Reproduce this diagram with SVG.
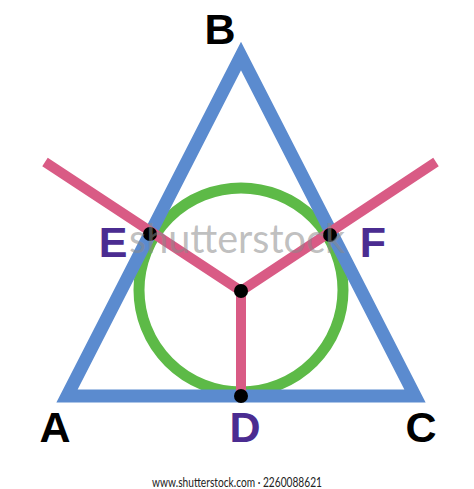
<svg xmlns="http://www.w3.org/2000/svg" width="474" height="489" viewBox="0 0 474 489">
<style>
.lbl{font-family:"Liberation Sans",Arial,sans-serif;font-weight:bold;font-size:43px;text-anchor:middle}
.blk{fill:#000}
.pur{fill:#4b2c91}
.dot{fill:#000}
</style>
<rect width="474" height="489" fill="#fff"/>
<g id="incircle">
<circle cx="241" cy="290" r="102" fill="none" stroke="#5dba47" stroke-width="11"/>
</g>
<g id="triangle">
<polygon points="67,396 415,396 241,56" fill="none" stroke="#5b8bcf" stroke-width="13" stroke-linejoin="miter" stroke-miterlimit="10"/>
</g>
<g id="connectors" fill="none" stroke="#d95b85" stroke-width="10">
<polyline points="45,162 241,291 436,162"/>
<line x1="241" y1="291" x2="241" y2="396"/>
</g>
<g id="node-E"><circle class="dot" cx="150" cy="234" r="7"/><text class="lbl pur" x="113" y="257">E</text></g>
<g id="node-F"><circle class="dot" cx="330" cy="235" r="7"/><text class="lbl pur" x="373" y="257">F</text></g>
<g id="node-I"><circle class="dot" cx="241" cy="291" r="7"/></g>
<g id="node-D"><circle class="dot" cx="241" cy="396" r="7"/><text class="lbl pur" x="245" y="442">D</text></g>
<g id="node-A"><text class="lbl blk" x="55" y="442">A</text></g>
<g id="node-B"><text class="lbl blk" x="220" y="44">B</text></g>
<g id="node-C"><text class="lbl blk" x="421" y="442">C</text></g>
<text x="129" y="253" font-family="Lato,'Liberation Sans',sans-serif" font-size="40" fill="#8a8a8a" fill-opacity="0.55" textLength="216" lengthAdjust="spacingAndGlyphs">shutterstock</text>
<text x="152" y="487" font-family="Lato,'Liberation Sans',sans-serif" font-size="13" fill="#222" textLength="170" lengthAdjust="spacingAndGlyphs">www.shutterstock.com · 2260088621</text>
</svg>
